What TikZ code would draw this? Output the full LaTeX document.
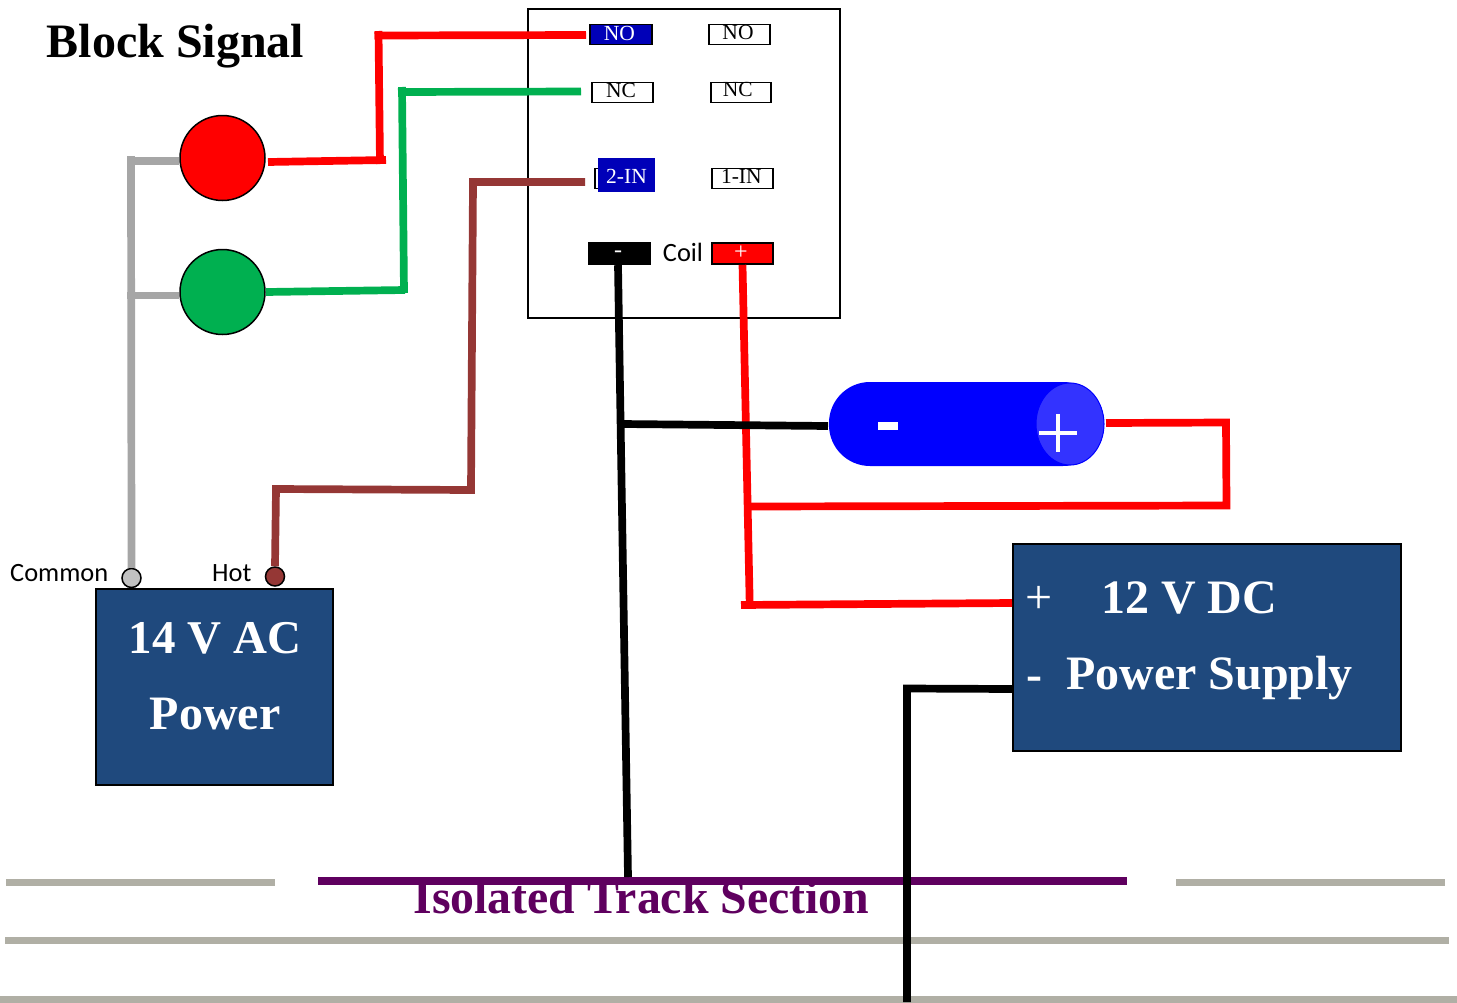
\documentclass[tikz,border=0pt]{standalone}
\usepackage{fontspec}
\usetikzlibrary{shapes.geometric}
\setmainfont{Liberation Serif}
\newfontfamily\labelfont{Carlito}
\definecolor{boxblue}{HTML}{1F497D}
\definecolor{wirered}{HTML}{FF0000}
\definecolor{wiregreen}{HTML}{00B050}
\definecolor{lampgreen}{HTML}{00B050}
\definecolor{wirebrown}{HTML}{953735}
\definecolor{wiregray}{HTML}{A6A6A6}
\definecolor{railgray}{HTML}{B0AFA5}
\definecolor{pinblue}{HTML}{0000B8}
\definecolor{trackpurple}{HTML}{5F005F}
\definecolor{capblue}{HTML}{3333FF}
\newcommand{\pintxt}[3]{\raisebox{#2pt}[0pt][0pt]{\kern#1pt #3}}
\tikzset{
  x=1pt,y=-1pt,
  pinbox/.style={draw=black,line width=1.6pt,fill=white,minimum width=60pt,minimum height=20pt,inner sep=0pt,text=black,font=\fontsize{21.5}{21.5}\selectfont},
  wire/.style={line width=7.7pt,line join=miter},
  rail/.style={railgray,line width=7pt},
  bigtext/.style={text=white,font=\fontsize{48}{48}\selectfont\bfseries,inner sep=0pt},
  powerbox/.style={draw=black,line width=2pt,fill=boxblue,inner sep=0pt},
  lamp/.style={draw=black,line width=1.5pt,circle,minimum size=85pt,inner sep=0pt},
  terminal/.style={draw=black,line width=1.5pt,circle,minimum size=19pt,inner sep=0pt},
  smalllabel/.style={font=\labelfont\fontsize{26.4}{26.4}\selectfont,inner sep=0pt,text=black}
}
\begin{document}
\begin{tikzpicture}
\useasboundingbox (0,0) rectangle (1457,1002);
% rails
\begin{scope}
\clip (0,0) rectangle (1457,1002);
\coordinate (r1a) at (6,882); \coordinate (r1b) at (275,882);
\coordinate (r2a) at (1176,882); \coordinate (r2b) at (1445,882);
\coordinate (r3a) at (5,940); \coordinate (r3b) at (1449,940);
\coordinate (r4a) at (0,999.5); \coordinate (r4b) at (1457,999.5);
\draw[rail] (r1a) -- (r1b);
\draw[rail] (r2a) -- (r2b);
\draw[rail] (r3a) -- (r3b);
\draw[rail] (r4a) -- (r4b);
\end{scope}
% relay
\node[draw=black,line width=1.6pt,fill=white,minimum width=312pt,minimum height=309pt,inner sep=0pt] (relay) at (684,163.5) {};
\node[pinbox,fill=pinblue,text=white,minimum width=62pt] (nol) at (621,34.5) {\pintxt{-3.4}{-6}{NO}};
\node[pinbox,minimum width=61pt] (nor) at (739.5,34.5) {\pintxt{-3}{-4.8}{NO}};
\node[pinbox,minimum width=61pt] (ncl) at (622.5,92.5) {\pintxt{-3}{-5.2}{NC}};
\node[pinbox,minimum width=60pt] (ncr) at (741,92.5) {\pintxt{-6.6}{-3.8}{NC}};
\node[pinbox,minimum width=30pt] (inback) at (610,178.5) {};
\node[fill=pinblue,text=white,minimum width=57pt,minimum height=34pt,inner sep=0pt,font=\fontsize{21.5}{21.5}\selectfont] (inl) at (626.5,175) {\pintxt{0}{-8.7}{2-IN}};
\node[pinbox,minimum width=61pt] (inr) at (742.5,178.5) {\pintxt{-2.4}{-5.2}{1-IN}};
\node[fill=black,text=white,minimum width=63pt,minimum height=23pt,inner sep=0pt,font=\fontsize{24}{24}\selectfont] (coilm) at (619.5,253.5) {\pintxt{-3}{-3.5}{-}};
\node[draw=black,line width=1.6pt,fill=red,text=white,minimum width=61pt,minimum height=21pt,inner sep=0pt,font=\fontsize{24}{24}\selectfont] (coilp) at (742.5,253.5) {\pintxt{-3}{-5.5}{+}};
\node[smalllabel] (coil) at (683,252) {Coil};
% lamps
\node[lamp,fill=red] (redlamp) at (222.5,158) {};
\node[lamp,fill=lampgreen] (greenlamp) at (222.5,292) {};
% boxes and terminals
\node[powerbox,minimum width=237pt,minimum height=196pt] (ac) at (214.5,687) {};
\node[powerbox,minimum width=388pt,minimum height=207pt] (dc) at (1207,647.5) {};
\node[terminal,fill=wiregray!70!white] (common) at (131.5,578) {};
\node[terminal,fill=wirebrown] (hot) at (275,576.5) {};
\node[smalllabel,anchor=west] at (10,573) {Common};
\node[smalllabel,anchor=west] at (212,573) {Hot};
% battery
\node[draw=none,fill=blue,rounded corners=41pt,minimum width=275pt,minimum height=84pt,inner sep=0pt] (battery) at (966.5,424) {};
\node[ellipse,draw=blue,line width=1pt,fill=capblue,minimum width=68pt,minimum height=82pt,inner sep=0pt] (cap) at (1070,424) {};
\fill[white] (878,422) rectangle (898,430);
\draw[white,line width=4pt] (1039,433) -- (1077,433);
\draw[white,line width=4pt] (1058,414) -- (1058,452);
% wire coordinates
\coordinate (wa) at (586,35); \coordinate (wb) at (374.5,35.5); \coordinate (wc) at (378.5,31); \coordinate (wd) at (380,164);
\coordinate (we) at (268,162); \coordinate (wf) at (386,160);
\coordinate (ga) at (581,91.5); \coordinate (gb) at (398,92); \coordinate (gc) at (402,87); \coordinate (gd) at (404,293);
\coordinate (ge) at (405,290);
\coordinate (ba) at (585,182); \coordinate (bb) at (473,182); \coordinate (bc) at (471,490); \coordinate (bd) at (276,489);
\coordinate (ya) at (131,156); \coordinate (yb) at (127,161); \coordinate (yc) at (127,295.5);
\coordinate (ka) at (622,424); \coordinate (kb) at (828,426);
\coordinate (ra) at (741,605); \coordinate (rb) at (749.7,604);
\coordinate (rc) at (749,506.5); \coordinate (rd) at (1226.5,505.5); \coordinate (re) at (1226,422.5); \coordinate (rf) at (1106,423);
% wires
\draw[wire,wirered] (wa) -- (wb);
\draw[wire,wirered] (wc) -- (wd);
\draw[wire,wirered] (we) -- (wf);
\draw[wire,wiregreen] (ga) -- (gb);
\draw[wire,wiregreen] (gc) -- (gd);
\draw[wire,wiregreen] (greenlamp.east) -- (ge);
\draw[wire,wirebrown] (ba) -- (bb) -- (bc) -- (bd) -- (hot.north);
\draw[wire,wiregray] (ya) -- (common.north);
\draw[wire,wiregray] (yb) -- (redlamp.west |- yb);
\draw[wire,wiregray] (yc) -- (greenlamp.west |- yc);
% track section
\coordinate (pa) at (318,881); \coordinate (pb) at (1127,881);
\node[text=trackpurple,font=\fontsize{47.8}{48}\selectfont\bfseries,inner sep=0pt] (track) at (641.5,897) {Isolated Track Section};
\draw[trackpurple,line width=8pt] (pa) -- (pb);
\coordinate (tt) at (628,877);
\draw[wire,black] (coilm.south) ++(-1.5,0) -- (tt);
\draw[wire,wirered] (coilp.south) -- (rb);
\draw[wire,wirered] (ra) -- (dc.west |- 0,603);
\draw[wire,black] (ka) -- (kb);
\draw[wire,wirered] (rc) -- (rd) -- (re) -- (rf);
\coordinate (ke) at (907,688.5); \coordinate (kf) at (907,1002);
\draw[wire,black] (dc.west |- 0,689) -- (ke) -- (kf);
% text
\node[anchor=west,font=\fontsize{48}{48}\selectfont\bfseries,inner sep=0pt] (title) at (46.5,46) {Block Signal};
\node[bigtext,font=\fontsize{47}{47}\selectfont\bfseries] (ac1) at (215,638.5) {14 V AC};
\node[bigtext] (ac2) at (215,714) {Power};
\node[bigtext,anchor=west] at (1101,597.5) {12 V DC};
\node[bigtext,anchor=west] at (1066,678) {Power Supply};
\node[text=white,font=\fontsize{48}{48}\selectfont,inner sep=0pt] at (1039,600) {+};
\node[bigtext,anchor=west] at (1026,684) {-};
\end{tikzpicture}
\end{document}
